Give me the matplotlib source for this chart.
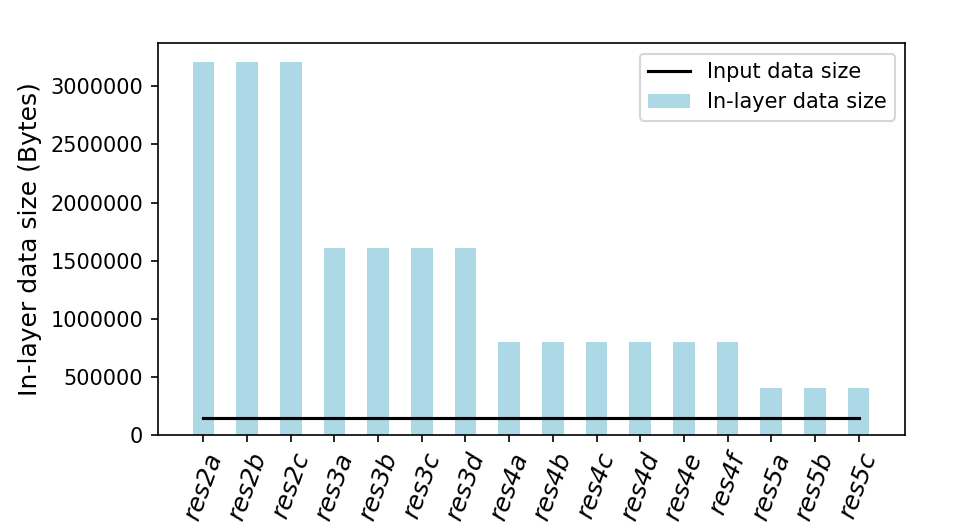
import matplotlib
matplotlib.use("Agg")
import matplotlib.pyplot as plt

layers = ["res2a", "res2b", "res2c", "res3a", "res3b", "res3c", "res3d",
          "res4a", "res4b", "res4c", "res4d", "res4e", "res4f",
          "res5a", "res5b", "res5c"]
inlayer_size = [3211264] * 3 + [1605632] * 4 + [802816] * 6 + [401408] * 3
input_size = [150528] * len(layers)

fig, ax = plt.subplots(figsize=(961 / 150, 532 / 150), dpi=150)
fig.subplots_adjust(left=0.164, right=0.942, top=0.919, bottom=0.182)

x = list(range(len(layers)))
ax.bar(x, inlayer_size, width=0.5, color="lightblue", label="In-layer data size")
ax.plot(x, input_size, color="black", linewidth=1.5, label="Input data size")

ax.set_xticks(x)
ax.set_xticklabels(layers, rotation=70, fontsize=12, fontstyle="italic")
ax.set_xlim(-1.05, 16.07)
ax.set_ylabel("In-layer data size (Bytes)", fontsize=12)
ax.ticklabel_format(axis="y", style="plain")
ax.legend(loc="upper right")

fig.savefig("out.png", dpi=150)
